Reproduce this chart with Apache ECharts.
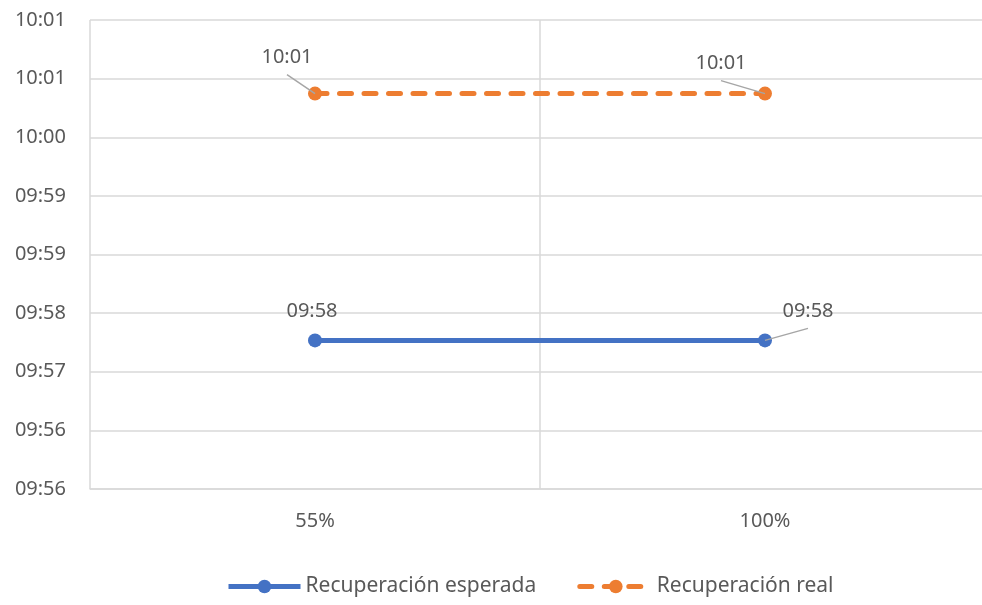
<!DOCTYPE html>
<html>
<head>
<meta charset="utf-8">
<script src="https://cdn.jsdelivr.net/npm/echarts@6/dist/echarts.min.js"></script>
<style>
  html, body { margin: 0; padding: 0; background: #ffffff; overflow: hidden; }
  #chart { width: 982px; height: 605px; }
</style>
</head>
<body>
<div id="chart"></div>
<script>
// Recovery level categories
const categories = ['55%', '100%'];
// Recovery times (hh:mm:ss)
const expectedTimes = ['09:57:32', '09:57:32'];
const actualTimes = ['10:00:33', '10:00:33'];
const seriesNames = ['Recuperación esperada', 'Recuperación real'];
// Time axis: start and step (seconds), eight steps
const axisStart = '09:55:43';
const axisStep = 43;
const axisSteps = 8;

function toSeconds(t) {
  const p = t.split(':').map(Number);
  return p[0] * 3600 + p[1] * 60 + (p[2] || 0);
}
const base = toSeconds(axisStart);
// hh:mm, rounded to the nearest minute
function fmt(offset) {
  const total = Math.round((base + offset) / 60);
  const h = Math.floor(total / 60) % 24;
  const m = total % 60;
  return String(h).padStart(2, '0') + ':' + String(m).padStart(2, '0');
}

const FONT = 'Noto Sans';
const TXT = '#595959';
const GRID = '#d9d9d9';
const LEADER = '#a6a6a6';
const COLORS = ['#4472C4', '#ED7D31'];

// Label displacement (dx, dy) from each point, and whether a leader line is drawn
const expectedShift = [[-3, -29], [43, -29]];
const actualShift = [[-28, -36], [-44, -30]];
const expectedLeader = [false, true];
const actualLeader = [true, true];
const leaderGap = 17;

function values(times) {
  return times.map(t => toSeconds(t) - base);
}

const chart = echarts.init(document.getElementById('chart'), null, { renderer: 'canvas' });

function lineSeries(name, times, color, dashed, shifts) {
  return {
    name: name,
    type: 'line',
    data: values(times),
    symbol: 'circle',
    symbolSize: 14,
    z: 3,
    itemStyle: { color: color },
    lineStyle: { color: color, width: 5, type: dashed ? [12, 12.5] : 'solid', cap: dashed ? 'round' : 'butt' },
    label: {
      show: true,
      position: 'inside',
      formatter: p => fmt(p.value),
      color: TXT,
      fontFamily: FONT,
      fontSize: 20
    },
    labelLayout: p => ({ dx: shifts[p.dataIndex][0], dy: shifts[p.dataIndex][1] }),
    emphasis: { disabled: true },
    animation: false
  };
}

// Leader lines from each point to its moved label
function leaderSeries(times, shifts, leaders) {
  return {
    type: 'custom',
    z: 4,
    silent: true,
    data: values(times).map((v, i) => [i, v]),
    renderItem: (params, api) => {
      const i = params.dataIndex;
      if (!leaders[i]) return null;
      const p = api.coord([api.value(0), api.value(1)]);
      const s = shifts[i];
      return {
        type: 'line',
        shape: { x1: p[0], y1: p[1], x2: p[0] + s[0], y2: p[1] + s[1] + leaderGap },
        style: { stroke: LEADER, lineWidth: 1.5 }
      };
    },
    animation: false
  };
}

chart.setOption({
  animation: false,
  grid: { left: 90, top: 20, width: 900, height: 469, containLabel: false, outerBoundsMode: 'none' },
  legend: {
    top: 576,
    left: 226,
    padding: 0,
    itemWidth: 72,
    itemHeight: 17,
    itemGap: 41,
    lineStyle: { width: 5 },
    textStyle: { color: TXT, fontFamily: FONT, fontSize: 21 },
    data: seriesNames
  },
  xAxis: {
    type: 'category',
    data: categories,
    boundaryGap: true,
    axisLine: { show: true, lineStyle: { color: GRID, width: 1.5 } },
    axisTick: { show: false },
    axisLabel: { color: TXT, fontFamily: FONT, fontSize: 20, margin: 22 },
    splitLine: { show: true, lineStyle: { color: GRID, width: 1.5 } }
  },
  yAxis: {
    type: 'value',
    min: 0,
    max: axisStep * axisSteps,
    interval: axisStep,
    axisLine: { show: false },
    axisTick: { show: false },
    axisLabel: { color: TXT, fontFamily: FONT, fontSize: 20, margin: 24, formatter: v => fmt(v) },
    splitLine: { show: true, lineStyle: { color: GRID, width: 1.5 } }
  },
  series: [
    lineSeries(seriesNames[0], expectedTimes, COLORS[0], false, expectedShift),
    lineSeries(seriesNames[1], actualTimes, COLORS[1], true, actualShift),
    leaderSeries(expectedTimes, expectedShift, expectedLeader),
    leaderSeries(actualTimes, actualShift, actualLeader)
  ]
});
</script>
</body>
</html>
